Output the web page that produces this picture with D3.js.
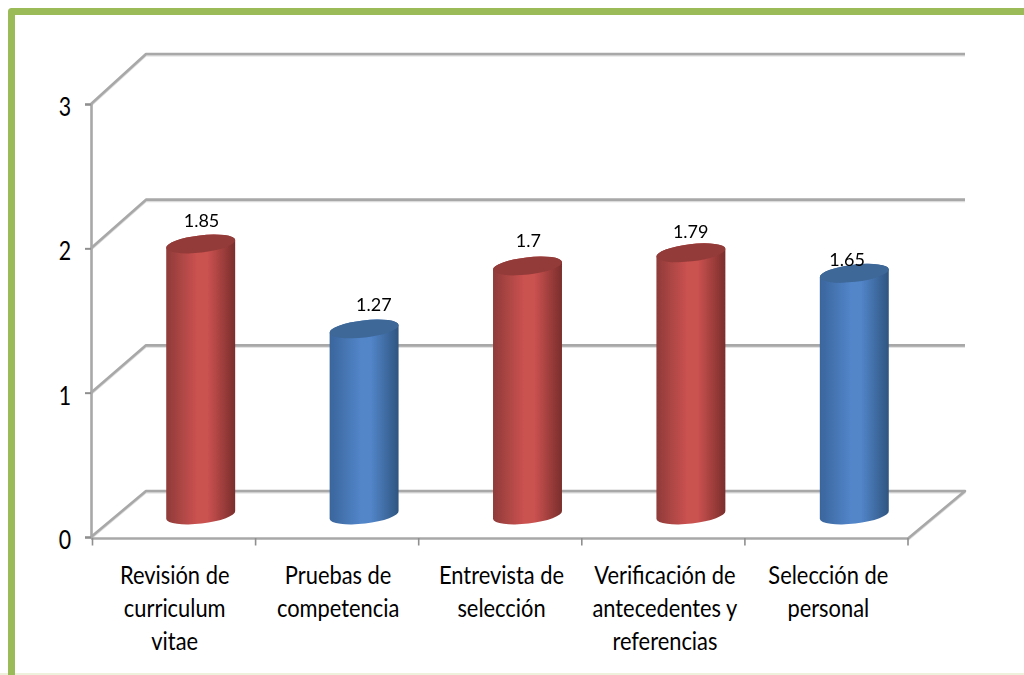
<!DOCTYPE html>
<html>
<head>
<meta charset="utf-8">
<script src="https://cdn.jsdelivr.net/npm/d3@7/dist/d3.min.js"></script>
<style>
  html, body { margin: 0; padding: 0; background: #fff; }
  svg { display: block; }
  text { font-family: Lato, "Open Sans", sans-serif; fill: #000; }
</style>
</head>
<body>
<svg id="chart" width="1024" height="675"></svg>
<script>
// Values shown on the chart
const categories = [
  ["Revisión de", "curriculum", "vitae"],
  ["Pruebas de", "competencia"],
  ["Entrevista de", "selección"],
  ["Verificación de", "antecedentes y", "referencias"],
  ["Selección de", "personal"]
];
const values = [1.85, 1.27, 1.7, 1.79, 1.65];
const seriesKind = ["red", "blue", "red", "red", "blue"];
const valueTicks = [0, 1, 2, 3];

// Layout of the 3D box
const depthX = 55;
const midX = 27;
const rightBack = 965;
const rx = 34.7, ry = 8.6, tilt = -6.6;

// Hand-placed data label nudges (dx, dy from the top of each cylinder)
const labelDx = [0, 9, 0, -1, -8];
const labelDy = [-18, -19, -20, -16, -8];

const svg = d3.select("#chart");
const defs = svg.append("defs");

const palette = {
  red:  { edgeL: "#8f3b39", mid: "#cb5250", edgeR: "#7a2e2c", cap: "#933b39" },
  blue: { edgeL: "#3a659c", mid: "#5285c9", edgeR: "#2f5580", cap: "#3d6797" }
};
Object.entries(palette).forEach(([k, c]) => {
  const g = defs.append("linearGradient").attr("id", "cyl-" + k);
  [[0, c.edgeL], [0.45, c.mid], [0.6, c.mid], [1, c.edgeR]].forEach(([o, col]) =>
    g.append("stop").attr("offset", o).attr("stop-color", col));
});
defs.append("filter").attr("id", "soft")
  .attr("x", "-5%").attr("y", "-5%").attr("width", "110%").attr("height", "110%")
  .append("feGaussianBlur").attr("stdDeviation", 0.6);

// Green frame: top and left sides only, cut by the page on the right and bottom
svg.append("rect").attr("x", 0).attr("y", 673).attr("width", 1024).attr("height", 2).attr("fill", "#eef2dd");
svg.append("path")
  .attr("d", d3.line()([[11.5, 675], [11.5, 11.5], [1024, 11.5]]))
  .attr("fill", "none").attr("stroke", "#9bbb59").attr("stroke-width", 7)
  .attr("stroke-linejoin", "round");

// Scales: one for the front plane, one for the back wall, one through the cylinders
const yFront = d3.scaleLinear().domain([0, 3]).range([537, 104]);
const yBack = d3.scaleLinear().domain([0, 3]).range([491, 54]);
const yMid = d3.scaleLinear().domain([0, 3]).range([515, 75.5]);
const x = d3.scaleBand().domain(d3.range(categories.length)).range([92, 909]);

const grid = svg.append("g").attr("fill", "none").attr("stroke-linejoin", "round");
const wall = v => {
  const pts = [[91, yFront(v)], [91 + depthX, yBack(v)], [rightBack, yBack(v)]];
  if (v === 0) pts.push([908, 538.5]);
  return d3.line()(pts);
};
grid.selectAll("path.shade").data(valueTicks).join("path")
  .attr("class", "shade").attr("d", wall).attr("transform", "translate(0,1.5)")
  .attr("stroke", "#dcdcdc").attr("stroke-width", 2);
grid.selectAll("path.wall").data(valueTicks).join("path")
  .attr("class", "wall").attr("d", wall)
  .attr("stroke", "#a8a8a8").attr("stroke-width", 2.6);

// Value axis on the front plane
const yAxis = svg.append("g").attr("transform", "translate(91,0)")
  .call(d3.axisLeft(yFront).tickValues(valueTicks).tickFormat(d3.format("d")).tickSize(6));
yAxis.select(".domain").attr("stroke", "#a8a8a8").attr("stroke-width", 2.6);
yAxis.selectAll(".tick line").attr("stroke", "#8f8f8f").attr("stroke-width", 2);
yAxis.selectAll("text").attr("font-size", 26).attr("x", 0).attr("dy", "0.44em")
  .attr("transform", "translate(-20,0) scale(.82,1)");

// Category axis: ticks sit on the band edges, with the front floor edge as its line
const edges = d3.range(categories.length + 1).map(i => 92.5 + i * 163.1);
const xAxis = svg.append("g");
xAxis.append("line").attr("x1", 91).attr("x2", 908).attr("y1", 538.5).attr("y2", 538.5)
  .attr("stroke", "#a8a8a8").attr("stroke-width", 2.6);
xAxis.selectAll("line.tick").data(edges).join("line").attr("class", "tick")
  .attr("x1", d => d).attr("x2", d => d).attr("y1", 538).attr("y2", 545.5)
  .attr("stroke", "#8f8f8f").attr("stroke-width", 1.6);

const catLabels = svg.append("g").attr("text-anchor", "middle").attr("font-size", 25);
categories.forEach((lines, i) => {
  const cx = x(i) + x.bandwidth() / 2 + 1;
  lines.forEach((line, j) => {
    catLabels.append("text")
      .attr("transform", `translate(${cx},${583.5 + j * 33}) scale(.875,1)`)
      .text(line);
  });
});

// Cylinders
const rad = tilt * Math.PI / 180;
const sx = rx * Math.cos(rad), sy = rx * Math.sin(rad);
const bars = svg.append("g").attr("filter", "url(#soft)");
values.forEach((v, i) => {
  const cx = x(i) + x.bandwidth() / 2 + midX;
  const top = yMid(v), bottom = yMid(0);
  const c = palette[seriesKind[i]];
  const body = `M${cx - sx},${top - sy} L${cx - sx},${bottom - sy}` +
    ` A${rx},${ry} ${tilt} 0 0 ${cx + sx},${bottom + sy}` +
    ` L${cx + sx},${top + sy} A${rx},${ry} ${tilt} 0 0 ${cx - sx},${top - sy} Z`;
  bars.append("path").attr("d", body).attr("fill", `url(#cyl-${seriesKind[i]})`);
  bars.append("ellipse").attr("cx", 0).attr("cy", 0).attr("rx", rx).attr("ry", ry)
    .attr("transform", `translate(${cx},${top}) rotate(${tilt})`)
    .attr("fill", c.cap);
});

// Data labels
svg.append("g").attr("text-anchor", "middle").attr("font-size", 18)
  .selectAll("text").data(values).join("text")
  .attr("x", (d, i) => x(i) + x.bandwidth() / 2 + 27.8 + labelDx[i])
  .attr("y", (d, i) => yMid(d) + 1 + labelDy[i])
  .text(d => d);
</script>
</body>
</html>
